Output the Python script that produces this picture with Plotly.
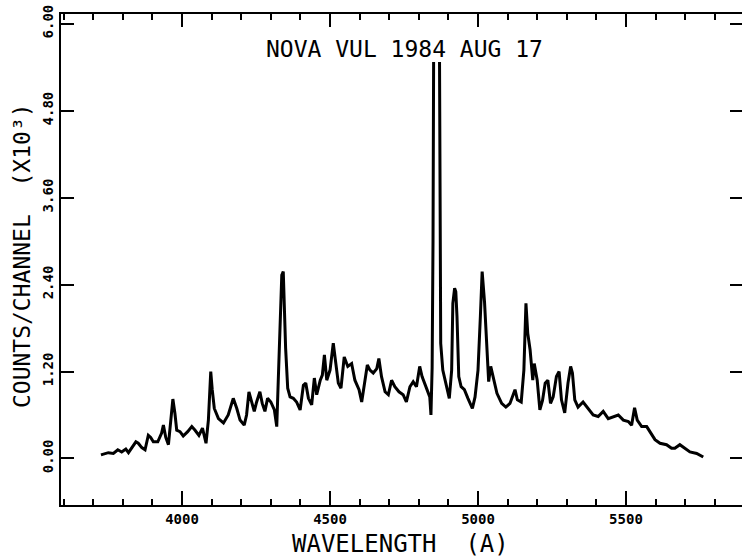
import plotly.graph_objects as go

# Wavelength (Angstrom) and counts per channel (x10^3)
wavelength = [
    3726, 3751, 3768, 3783, 3796, 3810, 3819, 3832, 3844, 3852, 3864, 3875, 3886, 3894,
    3903, 3918, 3931, 3937, 3945, 3954, 3963, 3969, 3976, 3982, 3993, 4004, 4019, 4033,
    4044, 4057, 4069, 4081, 4089, 4097, 4102, 4109, 4123, 4140, 4156, 4173, 4185, 4196,
    4210, 4218, 4226, 4235, 4244, 4252, 4263, 4271, 4280, 4289, 4300, 4312, 4320, 4325,
    4331, 4337, 4342, 4346, 4350, 4357, 4365, 4376, 4387, 4399, 4410, 4418, 4427, 4438,
    4447, 4455, 4467, 4474, 4481, 4489, 4500, 4511, 4519, 4528, 4537, 4548, 4560, 4573,
    4584, 4598, 4607, 4616, 4626, 4635, 4646, 4658, 4665, 4674, 4686, 4697, 4708, 4719,
    4733, 4747, 4758, 4770, 4781, 4792, 4803, 4811, 4820, 4829, 4837, 4841, 4845, 4848,
    4850, 4860, 4870, 4872, 4874, 4881, 4892, 4903, 4911, 4915, 4921, 4925, 4929, 4935,
    4943, 4954, 4966, 4981, 4990, 5000, 5008, 5014, 5022, 5030, 5036, 5043, 5053, 5064,
    5080, 5094, 5108, 5125, 5133, 5146, 5155, 5162, 5168, 5176, 5185, 5190, 5200, 5209,
    5218, 5227, 5236, 5245, 5254, 5265, 5274, 5282, 5293, 5304, 5313, 5319, 5327, 5338,
    5355, 5372, 5389, 5406, 5423, 5440, 5457, 5474, 5491, 5508, 5519, 5529, 5538, 5553,
    5570, 5581, 5598, 5615, 5637, 5654, 5665, 5682, 5699, 5716, 5739, 5761,
]
counts = [
    0.05, 0.08, 0.07, 0.12, 0.09, 0.13, 0.08, 0.15, 0.23, 0.21, 0.15, 0.12, 0.32, 0.29,
    0.23, 0.23, 0.35, 0.46, 0.29, 0.19, 0.53, 0.82, 0.62, 0.39, 0.37, 0.31, 0.37, 0.44,
    0.39, 0.32, 0.42, 0.21, 0.53, 1.20, 0.95, 0.69, 0.55, 0.49, 0.60, 0.83, 0.69, 0.53,
    0.46, 0.60, 0.92, 0.78, 0.65, 0.78, 0.92, 0.76, 0.65, 0.83, 0.78, 0.67, 0.44, 1.06,
    1.98, 2.53, 2.58, 2.07, 1.52, 0.97, 0.85, 0.83, 0.78, 0.67, 1.01, 1.04, 0.83, 0.74,
    1.11, 0.88, 1.08, 1.15, 1.43, 1.08, 1.22, 1.59, 1.29, 1.04, 0.97, 1.40, 1.27, 1.31,
    1.08, 0.95, 0.78, 1.04, 1.29, 1.22, 1.18, 1.24, 1.38, 1.13, 0.92, 0.88, 1.08, 0.99,
    0.92, 0.88, 0.78, 0.99, 1.06, 0.99, 1.27, 1.13, 1.04, 0.95, 0.85, 0.60, 1.25, 3.00,
    5.47, None, 5.47, 3.20, 1.59, 1.22, 1.04, 0.83, 1.22, 2.14, 2.35, 2.30, 1.96, 1.13,
    0.99, 0.95, 0.83, 0.69, 0.85, 1.22, 1.96, 2.58, 2.16, 1.40, 1.06, 1.27, 1.08, 0.90,
    0.76, 0.71, 0.76, 0.95, 0.81, 0.78, 1.22, 2.14, 1.73, 1.50, 1.08, 1.31, 1.08, 0.67,
    0.80, 1.04, 1.08, 0.76, 0.85, 1.13, 1.20, 0.81, 0.63, 1.04, 1.27, 1.18, 0.81, 0.71,
    0.78, 0.69, 0.60, 0.58, 0.65, 0.55, 0.58, 0.60, 0.53, 0.51, 0.46, 0.70, 0.53, 0.44,
    0.44, 0.37, 0.26, 0.21, 0.19, 0.14, 0.14, 0.19, 0.14, 0.09, 0.07, 0.02,
]

x_tickvals = [4000, 4500, 5000, 5500]
x_ticktext = ["4000", "4500", "5000", "5500"]
x_minor = list(range(3600, 5900, 100))
y_tickvals = [0.0, 1.2, 2.4, 3.6, 4.8, 6.0]
y_ticktext = ["0.00", "1.20", "2.40", "3.60", "4.80", "6.00"]

title_text = "NOVA VUL 1984 AUG 17"
x_title = "WAVELENGTH  (A)"
y_title = "COUNTS/CHANNEL  (X10³)"

XR = [3591, 5892]
YR = [-0.642, 6.134]
FONT = "DejaVu Sans Mono, Liberation Mono, monospace"

fig = go.Figure()
fig.add_trace(go.Scatter(x=wavelength, y=counts, mode="lines",
                         line=dict(color="black", width=3),
                         connectgaps=False, showlegend=False, hoverinfo="skip"))
fig.add_trace(go.Scatter(x=[None], y=[None], xaxis="x2", yaxis="y2",
                         mode="lines", showlegend=False, hoverinfo="skip"))

fig.update_layout(
    width=742, height=559,
    margin=dict(l=61, r=0, t=14, b=54),
    paper_bgcolor="white", plot_bgcolor="white",
    font=dict(family=FONT, color="black"),
    xaxis=dict(range=XR, showgrid=False, zeroline=False, showline=True,
               linecolor="black", linewidth=2, ticks="inside", ticklen=14,
               tickwidth=2, tickcolor="black",
               tickmode="array", tickvals=x_tickvals, ticktext=x_ticktext,
               tickfont=dict(size=14, weight="bold", family=FONT),
               minor=dict(tickmode="array", tickvals=x_minor, ticks="inside",
                          ticklen=6, tickwidth=2, tickcolor="black")),
    xaxis2=dict(range=XR, overlaying="x", side="top", showgrid=False,
                zeroline=False, showline=True, linecolor="black", linewidth=2,
                ticks="inside", ticklen=13, tickwidth=2, tickcolor="black",
                tickmode="array", tickvals=x_tickvals, showticklabels=False,
                minor=dict(tickmode="array", tickvals=x_minor, ticks="inside",
                           ticklen=6, tickwidth=2, tickcolor="black")),
    yaxis=dict(range=YR, showgrid=False, zeroline=False, showline=True,
               linecolor="black", linewidth=2, ticks="inside", ticklen=13,
               tickwidth=2, tickcolor="black",
               tickmode="array", tickvals=y_tickvals, ticktext=y_ticktext,
               tickangle=-90, tickfont=dict(size=14, weight="bold", family=FONT)),
    yaxis2=dict(range=YR, overlaying="y", side="right", showgrid=False,
                zeroline=False, showline=False, ticks="inside", ticklen=12,
                tickwidth=2, tickcolor="black", tickmode="array",
                tickvals=y_tickvals, showticklabels=False),
    annotations=[
        dict(text=title_text, xref="paper", yref="paper", x=0.5037, y=0.9287,
             xanchor="center", yanchor="middle", showarrow=False,
             font=dict(size=23, family=FONT)),
        dict(text=x_title, xref="paper", yref="paper", x=0.498, y=-0.0794,
             xanchor="center", yanchor="middle", showarrow=False,
             font=dict(size=24, family=FONT)),
        dict(text=y_title, xref="paper", yref="paper", x=-0.0573, y=0.509,
             xanchor="center", yanchor="middle", showarrow=False, textangle=-90,
             font=dict(size=23, family=FONT)),
    ],
)

fig.write_html(
    "out.html",
    config={"displayModeBar": False},
    post_script="document.body.style.margin='0';document.body.style.padding='0';",
)
